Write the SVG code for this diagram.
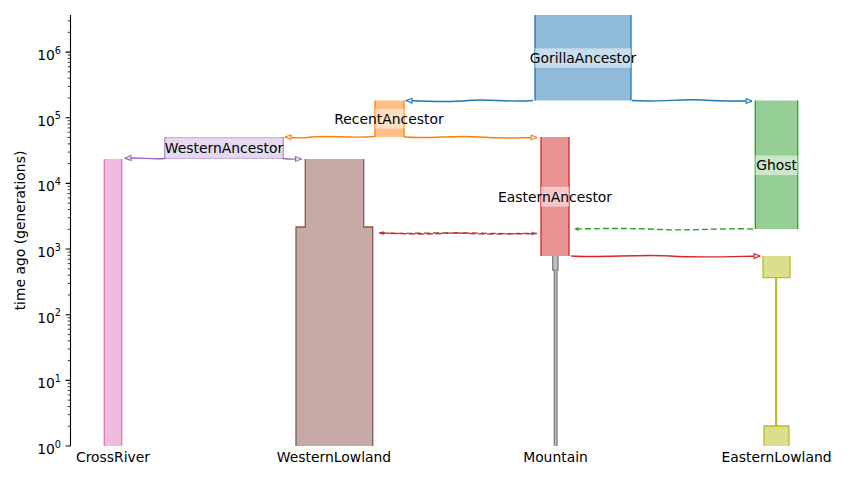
<svg xmlns="http://www.w3.org/2000/svg" width="853" height="480" viewBox="0 0 853 480">
<style>
text{font-family:"DejaVu Sans","Noto Sans",sans-serif;font-size:13.9px;fill:#000}
.lab{text-anchor:middle}
.tk{text-anchor:end}
.band{fill:#fff;fill-opacity:0.5}
.side{fill:none;stroke-width:1.3}
.pl{fill:none;stroke-width:1.4}
.mig{fill:none;stroke-width:1.4;stroke-dasharray:6,3}
</style>
<defs>
<marker id="hb" markerUnits="userSpaceOnUse" markerWidth="9" markerHeight="8" viewBox="0 0 9 8" refX="7.5" refY="4" orient="auto"><path d="M1.5,1.4 L7.5,4 L1.5,6.6 Z" fill="#c6dcee" stroke="#1f77b4" stroke-width="1"/></marker>
<marker id="ho" markerUnits="userSpaceOnUse" markerWidth="9" markerHeight="8" viewBox="0 0 9 8" refX="7.5" refY="4" orient="auto"><path d="M1.5,1.4 L7.5,4 L1.5,6.6 Z" fill="#ffdfc2" stroke="#ff7f0e" stroke-width="1"/></marker>
<marker id="hp" markerUnits="userSpaceOnUse" markerWidth="9" markerHeight="8" viewBox="0 0 9 8" refX="7.5" refY="4" orient="auto"><path d="M1.5,1.4 L7.5,4 L1.5,6.6 Z" fill="#e4d9ee" stroke="#9467bd" stroke-width="1"/></marker>
<marker id="hr" markerUnits="userSpaceOnUse" markerWidth="9" markerHeight="8" viewBox="0 0 9 8" refX="7.5" refY="4" orient="auto"><path d="M1.5,1.4 L7.5,4 L1.5,6.6 Z" fill="#f4c9c9" stroke="#d62728" stroke-width="1"/></marker>
<marker id="mr" markerUnits="userSpaceOnUse" markerWidth="6" markerHeight="6" viewBox="0 0 6 6" refX="5" refY="3" orient="auto"><path d="M0.5,1 L5,3 L0.5,5 Z" fill="#d62728"/></marker>
<marker id="mbr" markerUnits="userSpaceOnUse" markerWidth="6" markerHeight="6" viewBox="0 0 6 6" refX="5" refY="3" orient="auto"><path d="M0.5,1 L5,3 L0.5,5 Z" fill="#8c564b"/></marker>
<marker id="mg" markerUnits="userSpaceOnUse" markerWidth="6" markerHeight="6" viewBox="0 0 6 6" refX="5" refY="3" orient="auto"><path d="M0.5,1 L5,3 L0.5,5 Z" fill="#2ca02c"/></marker>
</defs>
<rect width="853" height="480" fill="#fff"/>

<g id="axes">
<path d="M70.5,15 V446" stroke="#000" stroke-width="1.1" fill="none"/>
<path d="M65.6,446H70.5M65.6,380.35H70.5M65.6,314.7H70.5M65.6,249.05H70.5M65.6,183.4H70.5M65.6,117.75H70.5M65.6,52.1H70.5" stroke="#000" stroke-width="1.1" fill="none"/>
<path d="M67.7,426.24H70.5M67.7,414.68H70.5M67.7,406.48H70.5M67.7,400.11H70.5M67.7,394.91H70.5M67.7,390.52H70.5M67.7,386.71H70.5M67.7,383.35H70.5
M67.7,360.59H70.5M67.7,349.03H70.5M67.7,340.83H70.5M67.7,334.46H70.5M67.7,329.26H70.5M67.7,324.87H70.5M67.7,321.06H70.5M67.7,317.7H70.5
M67.7,294.94H70.5M67.7,283.38H70.5M67.7,275.18H70.5M67.7,268.81H70.5M67.7,263.61H70.5M67.7,259.22H70.5M67.7,255.41H70.5M67.7,252.05H70.5
M67.7,229.29H70.5M67.7,217.73H70.5M67.7,209.53H70.5M67.7,203.16H70.5M67.7,197.96H70.5M67.7,193.57H70.5M67.7,189.76H70.5M67.7,186.4H70.5
M67.7,163.64H70.5M67.7,152.08H70.5M67.7,143.88H70.5M67.7,137.51H70.5M67.7,132.31H70.5M67.7,127.92H70.5M67.7,124.11H70.5M67.7,120.75H70.5
M67.7,97.99H70.5M67.7,86.43H70.5M67.7,78.23H70.5M67.7,71.86H70.5M67.7,66.66H70.5M67.7,62.27H70.5M67.7,58.46H70.5M67.7,55.1H70.5
M67.7,32.34H70.5M67.7,20.78H70.5" stroke="#000" stroke-width="0.8" fill="none"/>
<text class="tk" x="61" y="454">10<tspan font-size="9.7" dy="-6.5">0</tspan></text>
<text class="tk" x="61" y="388.35">10<tspan font-size="9.7" dy="-6.5">1</tspan></text>
<text class="tk" x="61" y="322.7">10<tspan font-size="9.7" dy="-6.5">2</tspan></text>
<text class="tk" x="61" y="257.05">10<tspan font-size="9.7" dy="-6.5">3</tspan></text>
<text class="tk" x="61" y="191.4">10<tspan font-size="9.7" dy="-6.5">4</tspan></text>
<text class="tk" x="61" y="125.75">10<tspan font-size="9.7" dy="-6.5">5</tspan></text>
<text class="tk" x="61" y="60.1">10<tspan font-size="9.7" dy="-6.5">6</tspan></text>
<text class="lab" transform="translate(25,230.5) rotate(-90)">time ago (generations)</text>
<text class="lab" x="113" y="462">CrossRiver</text>
<text class="lab" x="334" y="462">WesternLowland</text>
<text class="lab" x="555.5" y="462">Mountain</text>
<text class="lab" x="776.5" y="462">EasternLowland</text>
</g>

<g id="deme-GorillaAncestor">
<rect x="535" y="15" width="96" height="85.5" fill="#8fbbd9"/>
<path class="side" stroke="#1f77b4" d="M535,15V100.5M631,15V100.5"/>
</g>
<g id="deme-RecentAncestor">
<rect x="375" y="100.5" width="29" height="36.5" fill="#ffbf86"/>
<path class="side" stroke="#ff7f0e" d="M375,100.5V137M404,100.5V137"/>
</g>
<g id="deme-WesternAncestor">
<rect x="165" y="137" width="118" height="22" fill="#cab3de"/>
<path class="side" stroke="#9467bd" d="M165,137V159M283,137V159"/>
</g>
<g id="deme-EasternAncestor">
<rect x="541" y="137" width="28" height="119" fill="#ea9393"/>
<path class="side" stroke="#d62728" d="M541,137V256M569,137V256"/>
</g>
<g id="deme-Ghost">
<rect x="755.3" y="100.5" width="42.4" height="128.5" fill="#95cf95"/>
<path class="side" stroke="#2ca02c" d="M755.3,100.5V229M797.7,100.5V229"/>
</g>
<g id="deme-CrossRiver">
<rect x="104.3" y="159" width="17.4" height="287" fill="#f1bbe0"/>
<path class="side" stroke="#e377c2" d="M104.3,159V446M121.7,159V446"/>
</g>
<g id="deme-WesternLowland">
<path d="M305.3,159H363.7V227H372.7V446H296V227H305.3Z" fill="#c5aaa5"/>
<path class="side" stroke="#8c564b" d="M305.3,159V227H296V446M363.7,159V227H372.7V446"/>
</g>
<g id="deme-Mountain">
<path d="M552.7,256H558V270H557V446H554.3V270H552.7Z" fill="#bfbfbf"/>
<path class="side" stroke="#7f7f7f" d="M552.7,256V270H554.3V446M558,256V270H557V446"/>
</g>
<g id="deme-EasternLowland">
<path d="M763,256H790V277.7H776.5V426H789V446H764V426H775.7V277.7H763Z" fill="#dddd90"/>
<path class="side" stroke="#bcbd22" d="M763,256V277.7H775.7V426H764V446M790,256V277.7H776.5V426H789V446"/>
</g>

<g id="connectors">
<path class="pl" stroke="#1f77b4" marker-end="url(#hb)" d="M533,100.5 C505,102.5 488,98.5 468,100.5 S430,101.5 406,100.5"/>
<path class="pl" stroke="#1f77b4" marker-end="url(#hb)" d="M632,100.5 C660,102.5 680,98.5 702,100 S735,101 752,101"/>
<path class="pl" stroke="#ff7f0e" marker-end="url(#ho)" d="M375,136.5 C348,138.5 330,135 312,137 S293,137.3 285,137"/>
<path class="pl" stroke="#ff7f0e" marker-end="url(#ho)" d="M404,137 C430,139 455,135 480,137 S520,137.5 537,137.5"/>
<path class="pl" stroke="#9467bd" marker-end="url(#hp)" d="M165,158.5 C150,159.5 140,157.3 125,158.3"/>
<path class="pl" stroke="#9467bd" marker-end="url(#hp)" d="M283,158.5 C290,159.5 295,159 301.5,159"/>
<path class="pl" stroke="#d62728" marker-end="url(#hr)" d="M571,256 C600,258 640,254 670,256 S732,256.5 760,256"/>
<path class="mig" stroke="#2ca02c" marker-end="url(#mg)" d="M753,229 C720,228 690,231 660,229.5 S600,228.5 574,229"/>
<path class="mig" stroke="#8c564b" marker-end="url(#mbr)" d="M379,233 C410,234.3 440,232 470,233.5 S515,233 536,233.5"/>
<path class="mig" stroke="#d62728" stroke-dashoffset="4" marker-end="url(#mr)" d="M537,233.5 C500,234.5 470,232 440,233.5 S400,233 379,233"/>
</g>

<g id="labels">
<rect class="band" x="535" y="48.3" width="96" height="19.5"/>
<text class="lab" x="583" y="63">GorillaAncestor</text>
<rect class="band" x="375" y="109" width="29" height="19.6"/>
<text class="lab" x="389" y="124">RecentAncestor</text>
<rect class="band" x="165" y="138.2" width="118" height="19.6"/>
<text class="lab" x="224" y="153">WesternAncestor</text>
<rect class="band" x="541" y="186.8" width="28" height="19.8"/>
<text class="lab" x="555" y="202">EasternAncestor</text>
<rect class="band" x="755.3" y="155.5" width="42.4" height="19.6"/>
<text class="lab" x="776.5" y="170">Ghost</text>
</g>
</svg>
